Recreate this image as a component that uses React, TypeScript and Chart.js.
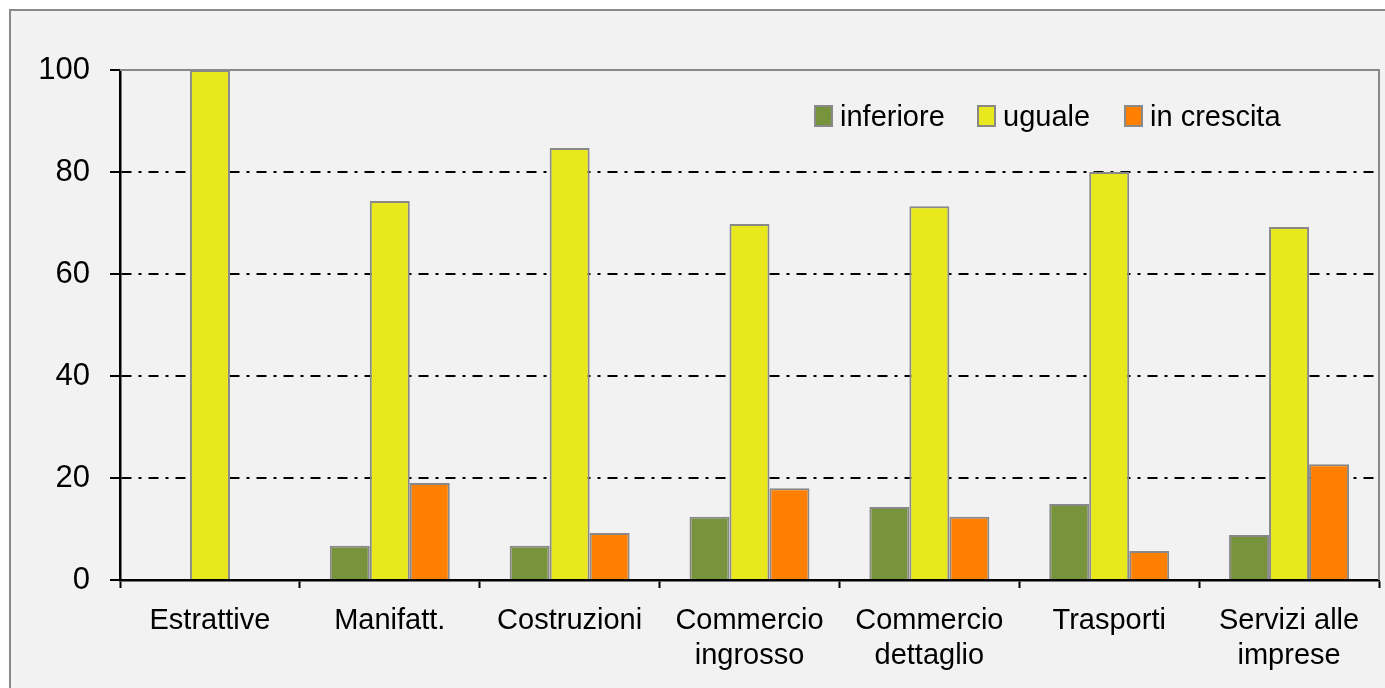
import React, { useEffect, useRef } from "react";
import { Chart, registerables } from "chart.js";

Chart.register(...registerables);

const categories: (string | string[])[] = [
  "Estrattive",
  "Manifatt.",
  "Costruzioni",
  ["Commercio", "ingrosso"],
  ["Commercio", "dettaglio"],
  "Trasporti",
  ["Servizi alle", "imprese"],
];
const inferiore = [0, 6.7, 6.7, 12.4, 14.3, 14.9, 8.8];
const uguale = [100, 74.3, 84.7, 69.8, 73.3, 80.0, 69.2];
const inCrescita = [0, 19.0, 9.2, 18.0, 12.4, 5.7, 22.7];
const seriesLabels = ["inferiore", "uguale", "in crescita"];
const seriesColors = ["#77933C", "#E8E81C", "#FF8000"];
const yTicks = [0, 20, 40, 60, 80, 100];

const FONT = "'Liberation Sans', Arial, sans-serif";

const framePlugin = {
  id: "frame",
  beforeDraw(chart: any) {
    const { ctx, width, height } = chart;
    ctx.save();
    ctx.fillStyle = "#ffffff";
    ctx.fillRect(0, 0, width, height);
    ctx.fillStyle = "#F2F2F2";
    ctx.fillRect(10, 10, width - 10, height - 10);
    ctx.strokeStyle = "#898989";
    ctx.lineWidth = 2;
    ctx.beginPath();
    ctx.moveTo(10, height);
    ctx.lineTo(10, 10);
    ctx.lineTo(width, 10);
    ctx.stroke();
    ctx.restore();
  },
  beforeDatasetsDraw(chart: any) {
    const { ctx, chartArea } = chart;
    ctx.save();
    ctx.strokeStyle = "#898989";
    ctx.lineWidth = 2;
    ctx.beginPath();
    ctx.moveTo(chartArea.left, chartArea.top);
    ctx.lineTo(chartArea.right, chartArea.top);
    ctx.lineTo(chartArea.right, chartArea.bottom);
    ctx.stroke();
    ctx.restore();
  },
  afterDraw(chart: any) {
    const { ctx } = chart;
    ctx.save();
    ctx.font = `29px ${FONT}`;
    ctx.textBaseline = "middle";
    ctx.textAlign = "left";
    const boxXs = [815, 978, 1125];
    const y = 116;
    chart.data.datasets.forEach((ds: any, i: number) => {
      const bx = boxXs[i];
      ctx.fillStyle = ds.backgroundColor;
      ctx.fillRect(bx, y - 10, 17, 20);
      ctx.strokeStyle = "#898989";
      ctx.lineWidth = 2;
      ctx.strokeRect(bx, y - 10, 17, 20);
      ctx.fillStyle = "#000000";
      ctx.fillText(ds.label, bx + 25, y + 2);
    });
    ctx.restore();
  },
};

export default function App() {
  const ref = useRef<HTMLCanvasElement | null>(null);
  useEffect(() => {
    if (!ref.current) return;
    const data = [inferiore, uguale, inCrescita];
    const chart = new Chart(ref.current, {
      type: "bar",
      data: {
        labels: categories,
        datasets: data.map((d, i) => ({
          label: seriesLabels[i],
          data: d,
          backgroundColor: seriesColors[i],
          borderColor: "#898989",
          borderWidth: 2,
          categoryPercentage: 0.667,
          barPercentage: 1,
        })),
      },
      options: {
        animation: false,
        responsive: false,
        layout: { padding: { left: 0, top: 70, right: 6, bottom: 0 } },
        plugins: {
          legend: { display: false },
          tooltip: { enabled: false },
        },
        scales: {
          x: {
            afterFit: (s: any) => {
              s.height = 108;
            },
            grid: {
              display: true,
              offset: true,
              color: "rgba(0,0,0,0)",
              drawOnChartArea: false,
              drawTicks: true,
              tickLength: 8,
              tickColor: "#000000",
              tickWidth: 2,
            },
            border: { display: true, color: "#000000", width: 2.5 },
            ticks: {
              color: "#000000",
              font: { family: FONT, size: 29, lineHeight: 1.2 },
              padding: 16,
              maxRotation: 0,
              autoSkip: false,
            },
          },
          y: {
            min: 0,
            max: 100,
            afterFit: (s: any) => {
              s.width = 120;
            },
            afterBuildTicks: (s: any) => {
              s.ticks = yTicks.map((v) => ({ value: v }));
            },
            grid: {
              display: true,
              color: (c: any) =>
                c.tick && (c.tick.value === 0 || c.tick.value === 100)
                  ? "rgba(0,0,0,0)"
                  : "#000000",
              lineWidth: 2,
              drawTicks: true,
              tickLength: 10,
              tickColor: "#000000",
              tickWidth: 2,
              tickBorderDash: [],
            },
            border: { display: true, color: "#000000", width: 2.5, dash: [10, 7, 3, 7] },
            ticks: {
              color: "#000000",
              font: { family: FONT, size: 31 },
              padding: 20,
            },
          },
        },
      },
      plugins: [framePlugin],
    });
    return () => chart.destroy();
  }, []);
  return (
    <div style={{ position: "absolute", left: 0, top: 0, width: 1385, height: 688 }}>
      <canvas ref={ref} width={1385} height={688} style={{ display: "block" }} />
    </div>
  );
}
